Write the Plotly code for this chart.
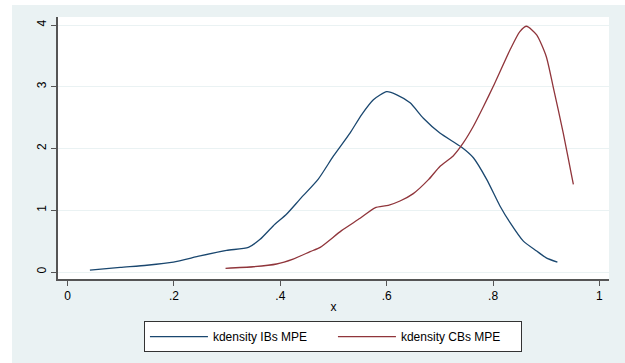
import plotly.graph_objects as go

# IBs MPE kernel density
ib_x = [0.042, 0.099, 0.149, 0.199, 0.249, 0.299, 0.340, 0.362, 0.387, 0.412, 0.437, 0.471,
        0.50, 0.531, 0.553, 0.575, 0.60, 0.619, 0.644, 0.669, 0.70, 0.741, 0.763, 0.788,
        0.813, 0.832, 0.857, 0.882, 0.90, 0.921]
ib_y = [0.03, 0.075, 0.11, 0.16, 0.26, 0.35, 0.40, 0.53, 0.75, 0.94, 1.18, 1.5,
        1.88, 2.25, 2.55, 2.79, 2.92, 2.87, 2.74, 2.49, 2.25, 2.02, 1.85, 1.5,
        1.07, 0.80, 0.50, 0.34, 0.23, 0.16]

# CBs MPE kernel density
cb_x = [0.297, 0.349, 0.393, 0.424, 0.456, 0.475, 0.515, 0.55, 0.578, 0.603, 0.625, 0.65,
        0.679, 0.70, 0.725, 0.744, 0.763, 0.782, 0.80, 0.832, 0.85, 0.863, 0.882, 0.90,
        0.913, 0.932, 0.948, 0.951]
cb_y = [0.06, 0.085, 0.13, 0.21, 0.33, 0.40, 0.67, 0.87, 1.04, 1.08, 1.15, 1.27,
        1.5, 1.71, 1.88, 2.09, 2.36, 2.68, 3.0, 3.6, 3.89, 3.98, 3.84, 3.49,
        3.0, 2.25, 1.55, 1.42]

x_ticks = [0, 0.2, 0.4, 0.6, 0.8, 1]
x_tick_labels = ["0", ".2", ".4", ".6", ".8", "1"]
y_ticks = [0, 1, 2, 3, 4]

BG = "#eaf2f3"
FONT = "Liberation Sans, Arial, sans-serif"

fig = go.Figure()
fig.add_trace(go.Scatter(x=ib_x, y=ib_y, mode="lines", name="kdensity IBs MPE",
                         line=dict(color="#1a476f", width=1.3, shape="spline", smoothing=0.6)))
fig.add_trace(go.Scatter(x=cb_x, y=cb_y, mode="lines", name="kdensity CBs MPE",
                         line=dict(color="#90353b", width=1.3, shape="spline", smoothing=0.6)))

fig.update_layout(
    width=625, height=363,
    margin=dict(l=58, r=16, t=17, b=83),
    paper_bgcolor=BG, plot_bgcolor="white",
    font=dict(family=FONT, size=12, color="black"),
    showlegend=True,
    legend=dict(orientation="h", x=0.499, xanchor="center", y=-0.156, yanchor="top",
                bgcolor="white", bordercolor="#333333", borderwidth=1,
                font=dict(size=12), itemwidth=58, entrywidth=115, tracegroupgap=0),
    xaxis=dict(range=[-0.018, 1.018], tickvals=x_ticks, ticktext=x_tick_labels,
               showgrid=False, zeroline=False, showline=True, linecolor="#555555",
               linewidth=1.5, ticks="outside", ticklen=5, tickcolor="#555555",
               title=dict(text="x", standoff=0, font=dict(size=12)),
               tickfont=dict(size=12)),
    yaxis=dict(range=[-0.113, 4.13], tickvals=y_ticks, tickangle=-90,
               showgrid=True, gridcolor=BG, gridwidth=1, zeroline=False,
               showline=True, linecolor="#555555", linewidth=1.5,
               ticks="outside", ticklen=5, tickcolor="#555555", tickfont=dict(size=12)),
    shapes=[
        dict(type="rect", xref="paper", yref="paper", x0=-0.2, x1=-0.0835, y0=-0.5, y1=1.2,
             fillcolor="white", line=dict(width=0), layer="below"),
        dict(type="rect", xref="paper", yref="paper", x0=-0.2, x1=1.2, y0=1.0456, y1=1.2,
             fillcolor="white", line=dict(width=0), layer="below"),
    ],
)

fig.write_html("out.html", config={"displayModeBar": False},
               post_script="document.body.style.margin='0';document.body.style.overflow='hidden';")
